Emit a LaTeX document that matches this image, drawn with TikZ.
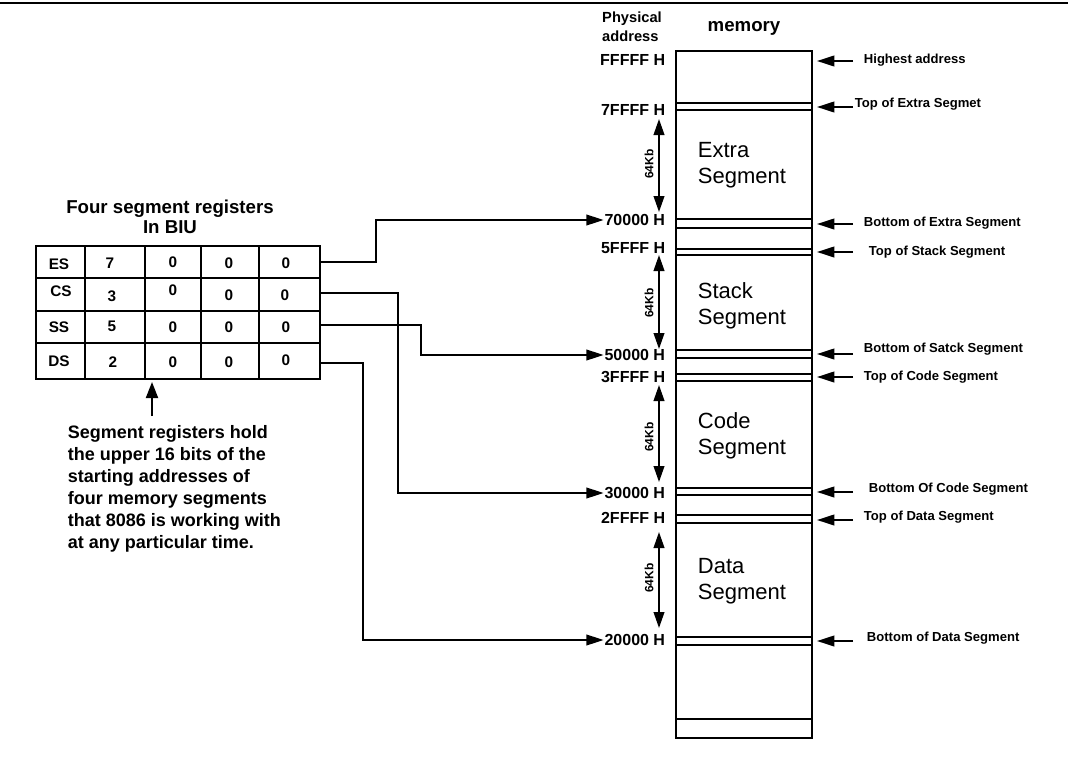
\documentclass[tikz,border=0pt]{standalone}
\usepackage{fontspec}
\setmainfont{Liberation Sans}
\usetikzlibrary{arrows.meta}
\begin{document}
\begin{tikzpicture}[x=0.75pt,y=-0.75pt,line width=1.4pt,
  tip/.style={-{Triangle[length=13pt,width=8pt]}},
  dbl/.style={{Triangle[length=12pt,width=8pt]}-{Triangle[length=12pt,width=8pt]}},
  addr/.style={inner sep=0pt,anchor=east,font=\fontsize{12}{14}\selectfont\bfseries},
  rlab/.style={inner sep=0pt,anchor=west,font=\fontsize{9.8}{12}\selectfont\bfseries},
  seg/.style={inner sep=0pt,anchor=west,align=left,font=\fontsize{16.5}{19.5}\selectfont},
  kb/.style={inner sep=0pt,rotate=90,font=\fontsize{9}{10}\selectfont\bfseries},
  cell/.style={inner sep=0pt,font=\fontsize{11.5}{13}\selectfont\bfseries}]
\useasboundingbox (0,0) rectangle (1068,757);
% top rule
\draw[line width=1.6pt] (0,3) -- (1068,3);
% headers
\node[inner sep=0pt,align=left,font=\fontsize{11}{14.25}\selectfont\bfseries] (phys) at (632,27) {Physical\\address};
\node[inner sep=0pt,font=\fontsize{14}{16}\selectfont\bfseries] (memlab) at (744,28) {memory};
% memory column
\node[draw,inner sep=0pt,minimum width=102pt,minimum height=515.25pt] (mem) at (744,394.5) {};
\foreach \y in {103,110,219,228,249,255,350,358,374,381,488,495,515,523,637,645,719}
  \draw (676,\y) -- (812,\y);
% segment names
\node[seg] (sE) at (697,165) {Extra\\Segment};
\node[seg] (sS) at (697,306) {Stack\\Segment};
\node[seg] (sC) at (697,436) {Code\\Segment};
\node[seg] (sD) at (697,581) {Data\\Segment};
% addresses
\node[addr] (aFFFFF) at (666,60) {FFFFF H};
\node[addr] (a7FFFF) at (666,110) {7FFFF H};
\node[addr] (a70000) at (666,220) {70000 H};
\node[addr] (a5FFFF) at (666,248) {5FFFF H};
\node[addr] (a50000) at (666,355) {50000 H};
\node[addr] (a3FFFF) at (666,377) {3FFFF H};
\node[addr] (a30000) at (666,493) {30000 H};
\node[addr] (a2FFFF) at (666,518) {2FFFF H};
\node[addr] (a20000) at (666,640) {20000 H};
% 64Kb arrows
\coordinate (e1) at (659,119); \coordinate (e2) at (659,212);
\coordinate (s1) at (659,255); \coordinate (s2) at (659,349);
\coordinate (c1) at (659,385); \coordinate (c2) at (659,482);
\coordinate (d1) at (659,532); \coordinate (d2) at (659,628);
\draw[dbl] (e1) -- (e2); \draw[dbl] (s1) -- (s2);
\draw[dbl] (c1) -- (c2); \draw[dbl] (d1) -- (d2);
\node[kb] (kE) at (649,164) {64Kb};
\node[kb] (kS) at (649,303) {64Kb};
\node[kb] (kC) at (649,437) {64Kb};
\node[kb] (kD) at (649,578) {64Kb};
% right labels
\node[rlab] (r1) at (863,60) {Highest address};
\node[rlab] (r2) at (854,104) {Top of Extra Segmet};
\node[rlab] (r3) at (863,223) {Bottom of Extra Segment};
\node[rlab] (r4) at (868,252) {Top of Stack Segment};
\node[rlab] (r5) at (863,349) {Bottom of Satck Segment};
\node[rlab] (r6) at (863,377) {Top of Code Segment};
\node[rlab] (r7) at (868,489) {Bottom Of Code Segment};
\node[rlab] (r8) at (863,517) {Top of Data Segment};
\node[rlab] (r9) at (866,638) {Bottom of Data Segment};
\foreach \n/\y in {1/61,2/107,3/224,4/252,5/354,6/377,7/492,8/520,9/641}{
  \coordinate (p\n) at (853,\y); \coordinate (q\n) at (817,\y);
  \draw[tip] (p\n) -- (q\n);}
% register table
\node[inner sep=0pt,align=center,font=\fontsize{14}{15}\selectfont\bfseries] (title) at (170,217) {Four segment registers\\In BIU};
\draw (36,246) rectangle (320,379);
\foreach \y in {278,311,343} \draw (36,\y) -- (320,\y);
\foreach \x in {85,145,201,259} \draw (\x,246) -- (\x,379);
\node[cell] (es) at (59,264) {ES};  \node[cell] (es1) at (110,263) {7};
\node[cell] (es2) at (173,262) {0}; \node[cell] (es3) at (229,263) {0}; \node[cell] (es4) at (286,263) {0};
\node[cell] (cs) at (61,291) {CS};  \node[cell] (cs1) at (112,296) {3};
\node[cell] (cs2) at (173,290) {0}; \node[cell] (cs3) at (229,295) {0}; \node[cell] (cs4) at (285,295) {0};
\node[cell] (ss) at (59,327) {SS};  \node[cell] (ss1) at (112,326) {5};
\node[cell] (ss2) at (173,327) {0}; \node[cell] (ss3) at (229,327) {0}; \node[cell] (ss4) at (286,327) {0};
\node[cell] (ds) at (59,361) {DS};  \node[cell] (ds1) at (113,362) {2};
\node[cell] (ds2) at (173,362) {0}; \node[cell] (ds3) at (229,362) {0}; \node[cell] (ds4) at (286,360) {0};
\coordinate (esR) at (320,262); \coordinate (csR) at (320,293);
\coordinate (ssR) at (320,325); \coordinate (dsR) at (320,363);
% connectors
\draw[tip] (esR) -- (376,262) |- (a70000.west);
\draw[tip] (csR) -- (398,293) |- (a30000.west);
\draw[tip] (ssR) -- (421,325) |- (a50000.west);
\draw[tip] (dsR) -- (363,363) |- (a20000.west);
% note
\node[inner sep=0pt,anchor=north west,align=left,font=\fontsize{13.5}{16.5}\selectfont\bfseries] (note) at (67,425)
 {Segment registers hold\\the upper 16 bits of the\\starting addresses of\\four memory segments\\that 8086 is working with\\at any particular time.};
\coordinate (up0) at (152,416); \coordinate (up1) at (152,382);
\draw[-{Triangle[length=12pt,width=9pt]}] (up0) -- (up1);
\end{tikzpicture}
\end{document}
